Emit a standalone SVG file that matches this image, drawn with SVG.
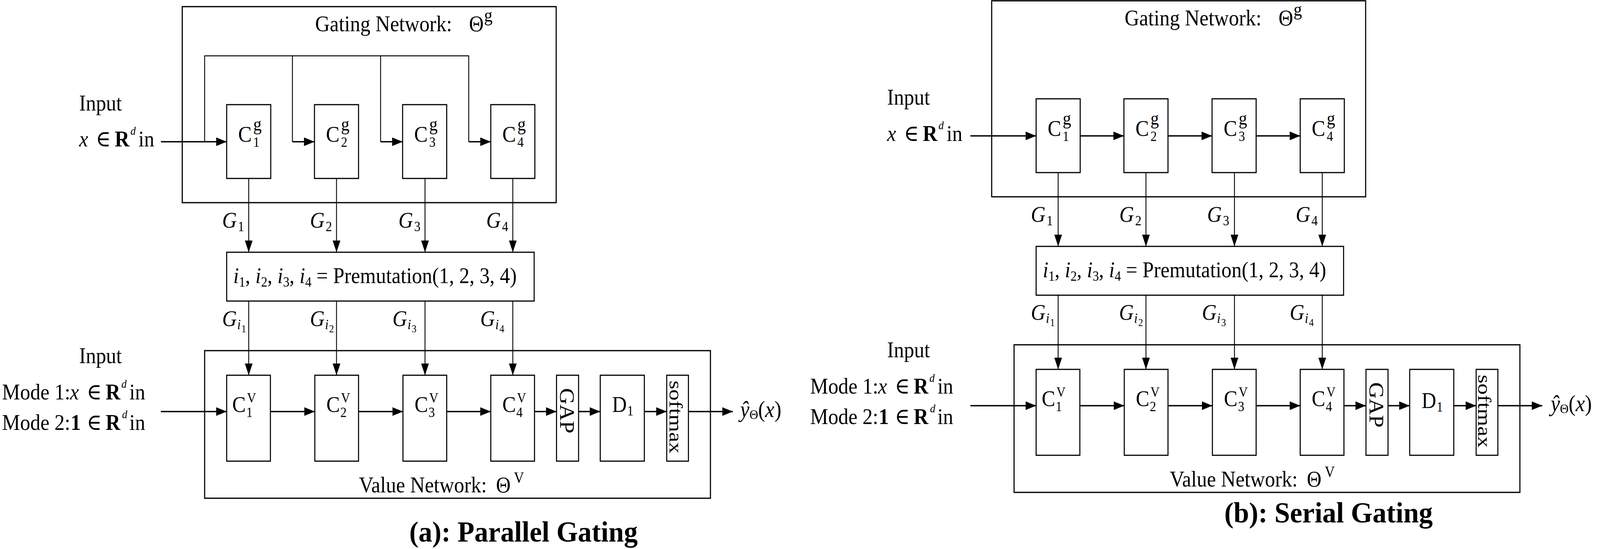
<svg xmlns="http://www.w3.org/2000/svg" width="4574" height="1406" viewBox="0 0 4574 1406" preserveAspectRatio="none" style="width:100vw;height:100vh;display:block">
<defs>
<style>
.box{fill:#fff;stroke:#000;stroke-width:3}
.frame{fill:none;stroke:#000;stroke-width:3.2}
.thin{fill:none;stroke:#000;stroke-width:2.5}
.thick{fill:none;stroke:#000;stroke-width:3.6}
.arr{marker-end:url(#ah)}
.t{font-family:"Liberation Serif","DejaVu Serif",serif;font-size:58px;fill:#000}
.it{font-style:italic}
.bf{font-weight:bold}
.sm{font-size:36px}
.xs{font-size:27px}
.sup{font-size:48px}
.dd{font-size:30px;font-style:italic}
.out{font-size:60px}
.cap{font-family:"Liberation Serif","DejaVu Serif",serif;font-size:74px;font-weight:bold;fill:#000}
</style>
<marker id="ah" markerUnits="userSpaceOnUse" markerWidth="30" markerHeight="22" refX="30" refY="11" orient="auto" overflow="visible">
<path d="M0,0 L30,11 L0,22 Z" fill="#000"/>
</marker>
</defs>
<rect x="0" y="0" width="4574" height="1406" fill="#fff"/>

<!-- ===================== (a) Parallel Gating ===================== -->
<g id="panel-a">
<g id="a-gating-network">
<rect class="frame" x="521" y="17" width="1069" height="502"/>
<text class="t" x="901" y="80">Gating Network:</text>
<text class="t" x="1341" y="80">Θ</text>
<text class="t sup" x="1384" y="55">g</text>
</g>
<g id="a-input-gating">
<text class="t" x="226" y="283">Input</text>
<text class="t" y="375"><tspan class="it" x="226">x</tspan><tspan x="274">∈</tspan><tspan class="bf" x="328">R</tspan><tspan class="dd" x="373" y="345">d</tspan><tspan x="396" y="375">in</tspan></text>
</g>
<g id="a-cg1"><rect class="box" x="648" y="268" width="126" height="189"/><text class="t" x="681" y="363">C</text><text class="t sup" x="724" y="334">g</text><text class="t sm" x="724" y="376">1</text></g>
<g id="a-cg2"><rect class="box" x="899" y="268" width="126" height="189"/><text class="t" x="932" y="363">C</text><text class="t sup" x="975" y="334">g</text><text class="t sm" x="975" y="376">2</text></g>
<g id="a-cg3"><rect class="box" x="1151" y="268" width="126" height="189"/><text class="t" x="1184" y="363">C</text><text class="t sup" x="1227" y="334">g</text><text class="t sm" x="1227" y="376">3</text></g>
<g id="a-cg4"><rect class="box" x="1403" y="268" width="126" height="189"/><text class="t" x="1436" y="363">C</text><text class="t sup" x="1479" y="334">g</text><text class="t sm" x="1479" y="376">4</text></g>
<g id="a-permutation">
<rect class="box" x="648" y="646" width="879" height="125"/>
<text class="t" x="667" y="725"><tspan class="it">i</tspan><tspan class="sm" dy="9">1</tspan><tspan dy="-9">, </tspan><tspan class="it">i</tspan><tspan class="sm" dy="9">2</tspan><tspan dy="-9">, </tspan><tspan class="it">i</tspan><tspan class="sm" dy="9">3</tspan><tspan dy="-9">, </tspan><tspan class="it">i</tspan><tspan class="sm" dy="9">4</tspan><tspan dy="-9"> = Premutation(1, 2, 3, 4)</tspan></text>
</g>
<g id="a-value-network">
<rect class="frame" x="585" y="898" width="1446" height="378"/>
<text class="t" x="1026" y="1261">Value Network:</text>
<text class="t" x="1418" y="1261">Θ</text>
<text class="t" style="font-size:40px" x="1469" y="1236">V</text>
</g>
<g id="a-input-value">
<text class="t" x="226" y="930">Input</text>
<text class="t" y="1023"><tspan x="6">Mode 1:</tspan><tspan class="it" x="200">x</tspan><tspan x="248">∈</tspan><tspan class="bf" x="302">R</tspan><tspan class="dd" x="347" y="993">d</tspan><tspan x="370" y="1023">in</tspan></text>
<text class="t" y="1101"><tspan x="6">Mode 2:</tspan><tspan class="bf" x="202">1</tspan><tspan x="248">∈</tspan><tspan class="bf" x="302">R</tspan><tspan class="dd" x="349" y="1071">d</tspan><tspan x="370" y="1101">in</tspan></text>
</g>
<g id="a-cv1"><rect class="box" x="648" y="961" width="125" height="220"/><text class="t" x="664" y="1055">C</text><text class="t sm" x="706" y="1031">V</text><text class="t sm" x="704" y="1068">1</text></g>
<g id="a-cv2"><rect class="box" x="900" y="961" width="125" height="220"/><text class="t" x="933" y="1055">C</text><text class="t sm" x="975" y="1031">V</text><text class="t sm" x="973" y="1068">2</text></g>
<g id="a-cv3"><rect class="box" x="1152" y="961" width="125" height="220"/><text class="t" x="1185" y="1055">C</text><text class="t sm" x="1227" y="1031">V</text><text class="t sm" x="1225" y="1068">3</text></g>
<g id="a-cv4"><rect class="box" x="1403" y="961" width="125" height="220"/><text class="t" x="1436" y="1055">C</text><text class="t sm" x="1478" y="1031">V</text><text class="t sm" x="1476" y="1068">4</text></g>
<g id="a-gap"><rect class="box" x="1591" y="961" width="63" height="220"/><text class="t" text-anchor="middle" transform="translate(1601,1052) rotate(90)">GAP</text></g>
<g id="a-d1"><rect class="box" x="1716" y="961" width="126" height="220"/><text class="t" x="1750" y="1055">D</text><text class="t sm" x="1793" y="1064">1</text></g>
<g id="a-softmax"><rect class="box" x="1906" y="961" width="62" height="220"/><text class="t" style="font-size:54px" text-anchor="middle" textLength="187" lengthAdjust="spacingAndGlyphs" transform="translate(1914,1068) rotate(90)">softmax</text></g>
<g id="a-output"><text class="t out" x="2116" y="1068"><tspan class="it">ŷ</tspan><tspan style="font-size:34px" dy="5">Θ</tspan><tspan dy="-5">(</tspan><tspan class="it">x</tspan><tspan>)</tspan></text></g>
<g id="a-edge-labels">
<text class="t" y="583"><tspan class="it" x="635">G</tspan><tspan class="sm" x="680" y="592">1</tspan></text>
<text class="t" y="583"><tspan class="it" x="886">G</tspan><tspan class="sm" x="931" y="592">2</tspan></text>
<text class="t" y="583"><tspan class="it" x="1139">G</tspan><tspan class="sm" x="1184" y="592">3</tspan></text>
<text class="t" y="583"><tspan class="it" x="1390">G</tspan><tspan class="sm" x="1435" y="592">4</tspan></text>
<text class="t" y="835"><tspan class="it" x="635">G</tspan><tspan class="sm it" x="678" y="843">i</tspan><tspan class="xs" x="690" y="851">1</tspan></text>
<text class="t" y="835"><tspan class="it" x="886">G</tspan><tspan class="sm it" x="929" y="843">i</tspan><tspan class="xs" x="941" y="851">2</tspan></text>
<text class="t" y="835"><tspan class="it" x="1122">G</tspan><tspan class="sm it" x="1165" y="843">i</tspan><tspan class="xs" x="1177" y="851">3</tspan></text>
<text class="t" y="835"><tspan class="it" x="1373">G</tspan><tspan class="sm it" x="1416" y="843">i</tspan><tspan class="xs" x="1428" y="851">4</tspan></text>
</g>
<g id="a-connectors">
<path class="thin" d="M585,363 V143 H1340 V363 M836,143 V363 M1088,143 V363"/>
<path class="thick arr" d="M460,363 H648"/>
<path class="thick arr" d="M836,363 H899"/>
<path class="thick arr" d="M1088,363 H1151"/>
<path class="thick arr" d="M1340,363 H1403"/>
<path class="thin arr" d="M711,457 V646"/>
<path class="thin arr" d="M962,457 V646"/>
<path class="thin arr" d="M1215,457 V646"/>
<path class="thin arr" d="M1466,457 V646"/>
<path class="thin arr" d="M711,771 V961"/>
<path class="thin arr" d="M962,771 V961"/>
<path class="thin arr" d="M1215,771 V961"/>
<path class="thin arr" d="M1466,771 V961"/>
<path class="thick arr" d="M460,1054 H648"/>
<path class="thick arr" d="M773,1054 H900"/>
<path class="thick arr" d="M1025,1054 H1152"/>
<path class="thick arr" d="M1277,1054 H1403"/>
<path class="thick arr" d="M1528,1054 H1591"/>
<path class="thick arr" d="M1654,1054 H1716"/>
<path class="thick arr" d="M1842,1054 H1906"/>
<path class="thick arr" d="M1968,1054 H2095"/>
</g>
</g>
<text id="caption-a" class="cap" x="1170" y="1387" textLength="653" lengthAdjust="spacingAndGlyphs">(a): Parallel Gating</text>

<!-- ===================== (b) Serial Gating ===================== -->
<g id="panel-b" transform="translate(2314,-15)">
<g id="b-gating-network">
<rect class="frame" x="521" y="17" width="1069" height="502"/>
<text class="t" x="901" y="80">Gating Network:</text>
<text class="t" x="1341" y="80">Θ</text>
<text class="t sup" x="1384" y="55">g</text>
</g>
<g id="b-input-gating">
<text class="t" x="222" y="283">Input</text>
<text class="t" y="376"><tspan class="it" x="222">x</tspan><tspan x="270">∈</tspan><tspan class="bf" x="324">R</tspan><tspan class="dd" x="369" y="346">d</tspan><tspan x="392" y="376">in</tspan></text>
</g>
<g id="b-cg1"><rect class="box" x="648" y="268" width="126" height="189"/><text class="t" x="681" y="363">C</text><text class="t sup" x="724" y="334">g</text><text class="t sm" x="724" y="376">1</text></g>
<g id="b-cg2"><rect class="box" x="899" y="268" width="126" height="189"/><text class="t" x="932" y="363">C</text><text class="t sup" x="975" y="334">g</text><text class="t sm" x="975" y="376">2</text></g>
<g id="b-cg3"><rect class="box" x="1151" y="268" width="126" height="189"/><text class="t" x="1184" y="363">C</text><text class="t sup" x="1227" y="334">g</text><text class="t sm" x="1227" y="376">3</text></g>
<g id="b-cg4"><rect class="box" x="1403" y="268" width="126" height="189"/><text class="t" x="1436" y="363">C</text><text class="t sup" x="1479" y="334">g</text><text class="t sm" x="1479" y="376">4</text></g>
<g id="b-permutation">
<rect class="box" x="648" y="646" width="879" height="125"/>
<text class="t" x="667" y="725"><tspan class="it">i</tspan><tspan class="sm" dy="9">1</tspan><tspan dy="-9">, </tspan><tspan class="it">i</tspan><tspan class="sm" dy="9">2</tspan><tspan dy="-9">, </tspan><tspan class="it">i</tspan><tspan class="sm" dy="9">3</tspan><tspan dy="-9">, </tspan><tspan class="it">i</tspan><tspan class="sm" dy="9">4</tspan><tspan dy="-9"> = Premutation(1, 2, 3, 4)</tspan></text>
</g>
<g id="b-value-network">
<rect class="frame" x="585" y="898" width="1446" height="378"/>
<text class="t" x="1030" y="1261">Value Network:</text>
<text class="t" x="1422" y="1261">Θ</text>
<text class="t" style="font-size:40px" x="1473" y="1236">V</text>
</g>
<g id="b-input-value">
<text class="t" x="222" y="930">Input</text>
<text class="t" y="1023"><tspan x="2">Mode 1:</tspan><tspan class="it" x="196">x</tspan><tspan x="244">∈</tspan><tspan class="bf" x="298">R</tspan><tspan class="dd" x="343" y="993">d</tspan><tspan x="366" y="1023">in</tspan></text>
<text class="t" y="1101"><tspan x="2">Mode 2:</tspan><tspan class="bf" x="198">1</tspan><tspan x="244">∈</tspan><tspan class="bf" x="298">R</tspan><tspan class="dd" x="345" y="1071">d</tspan><tspan x="366" y="1101">in</tspan></text>
</g>
<g id="b-cv1"><rect class="box" x="648" y="961" width="125" height="220"/><text class="t" x="664" y="1055">C</text><text class="t sm" x="706" y="1031">V</text><text class="t sm" x="704" y="1068">1</text></g>
<g id="b-cv2"><rect class="box" x="900" y="961" width="125" height="220"/><text class="t" x="933" y="1055">C</text><text class="t sm" x="975" y="1031">V</text><text class="t sm" x="973" y="1068">2</text></g>
<g id="b-cv3"><rect class="box" x="1152" y="961" width="125" height="220"/><text class="t" x="1185" y="1055">C</text><text class="t sm" x="1227" y="1031">V</text><text class="t sm" x="1225" y="1068">3</text></g>
<g id="b-cv4"><rect class="box" x="1403" y="961" width="125" height="220"/><text class="t" x="1436" y="1055">C</text><text class="t sm" x="1478" y="1031">V</text><text class="t sm" x="1476" y="1068">4</text></g>
<g id="b-gap"><rect class="box" x="1591" y="961" width="63" height="220"/><text class="t" text-anchor="middle" transform="translate(1601,1052) rotate(90)">GAP</text></g>
<g id="b-d1"><rect class="box" x="1716" y="961" width="126" height="220"/><text class="t" x="1750" y="1060">D</text><text class="t sm" x="1793" y="1069">1</text></g>
<g id="b-softmax"><rect class="box" x="1906" y="961" width="62" height="220"/><text class="t" style="font-size:54px" text-anchor="middle" textLength="187" lengthAdjust="spacingAndGlyphs" transform="translate(1912,1068) rotate(90)">softmax</text></g>
<g id="b-output"><text class="t out" x="2119" y="1068"><tspan class="it">ŷ</tspan><tspan style="font-size:34px" dy="5">Θ</tspan><tspan dy="-5">(</tspan><tspan class="it">x</tspan><tspan>)</tspan></text></g>
<g id="b-edge-labels">
<text class="t" y="583"><tspan class="it" x="633">G</tspan><tspan class="sm" x="678" y="592">1</tspan></text>
<text class="t" y="583"><tspan class="it" x="886">G</tspan><tspan class="sm" x="931" y="592">2</tspan></text>
<text class="t" y="583"><tspan class="it" x="1137">G</tspan><tspan class="sm" x="1182" y="592">3</tspan></text>
<text class="t" y="583"><tspan class="it" x="1390">G</tspan><tspan class="sm" x="1435" y="592">4</tspan></text>
<text class="t" y="834"><tspan class="it" x="633">G</tspan><tspan class="sm it" x="676" y="842">i</tspan><tspan class="xs" x="688" y="850">1</tspan></text>
<text class="t" y="834"><tspan class="it" x="885">G</tspan><tspan class="sm it" x="928" y="842">i</tspan><tspan class="xs" x="940" y="850">2</tspan></text>
<text class="t" y="834"><tspan class="it" x="1122">G</tspan><tspan class="sm it" x="1165" y="842">i</tspan><tspan class="xs" x="1177" y="850">3</tspan></text>
<text class="t" y="834"><tspan class="it" x="1373">G</tspan><tspan class="sm it" x="1416" y="842">i</tspan><tspan class="xs" x="1428" y="850">4</tspan></text>
</g>
<g id="b-connectors">
<path class="thick arr" d="M460,363 H648"/>
<path class="thick arr" d="M774,363 H899"/>
<path class="thick arr" d="M1025,363 H1151"/>
<path class="thick arr" d="M1277,363 H1403"/>
<path class="thin arr" d="M711,457 V646"/>
<path class="thin arr" d="M962,457 V646"/>
<path class="thin arr" d="M1215,457 V646"/>
<path class="thin arr" d="M1466,457 V646"/>
<path class="thin arr" d="M711,771 V961"/>
<path class="thin arr" d="M962,771 V961"/>
<path class="thin arr" d="M1215,771 V961"/>
<path class="thin arr" d="M1466,771 V961"/>
<path class="thick arr" d="M460,1054 H648"/>
<path class="thick arr" d="M773,1054 H900"/>
<path class="thick arr" d="M1025,1054 H1152"/>
<path class="thick arr" d="M1277,1054 H1403"/>
<path class="thick arr" d="M1528,1054 H1591"/>
<path class="thick arr" d="M1654,1054 H1716"/>
<path class="thick arr" d="M1842,1054 H1906"/>
<path class="thick arr" d="M1968,1054 H2095"/>
</g>
</g>
<text id="caption-b" class="cap" x="3500" y="1338" textLength="596" lengthAdjust="spacingAndGlyphs">(b): Serial Gating</text>
</svg>
